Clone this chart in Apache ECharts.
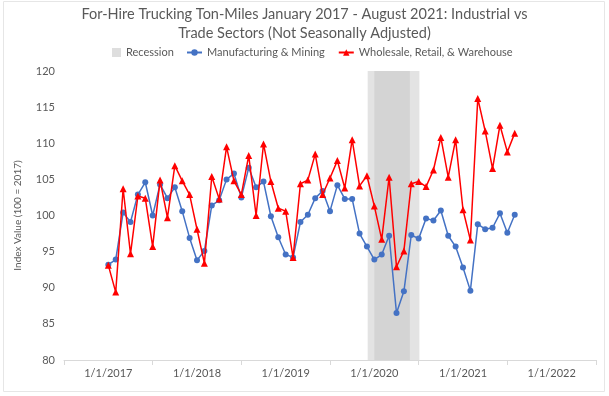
<!DOCTYPE html>
<html>
<head>
<meta charset="utf-8">
<title>For-Hire Trucking Ton-Miles</title>
<script src="https://cdn.jsdelivr.net/npm/echarts@6/dist/echarts.min.js"></script>
<style>
  html, body { margin: 0; padding: 0; background: #fff; }
  #chart { width: 609px; height: 396px; }
</style>
</head>
<body>
<div id="chart"></div>
<script>
// month index: 0 = Jan 2017 ... 55 = Aug 2021
const firstYear = 2017
const yearLabels = [2017, 2018, 2019, 2020, 2021, 2022]

const manufacturing = [
  93.2, 93.9, 100.4, 99.1, 102.9, 104.6, 100.0, 104.3, 102.4, 103.9, 100.6, 96.9,
  93.8, 95.1, 101.4, 102.1, 105.0, 105.8, 102.5, 106.6, 103.9, 104.7, 99.9, 97.0,
  94.6, 94.2, 99.1, 100.1, 102.4, 103.4, 100.6, 104.2, 102.3, 102.3, 97.5, 95.7,
  93.9, 94.6, 97.2, 86.5, 89.5, 97.3, 96.8, 99.6, 99.3, 100.7, 97.2, 95.7,
  92.8, 89.6, 98.8, 98.1, 98.3, 100.3, 97.6, 100.1
]
const wholesale = [
  93.1, 89.4, 103.7, 94.7, 102.7, 102.4, 95.7, 104.9, 99.7, 106.9, 104.8, 102.9,
  98.1, 93.4, 105.4, 102.3, 109.5, 104.8, 102.9, 108.3, 100.0, 109.9, 104.7, 101.0,
  100.6, 94.2, 104.4, 104.9, 108.5, 102.9, 105.2, 107.6, 103.8, 110.5, 104.1, 105.5,
  101.3, 96.7, 105.3, 92.9, 95.1, 104.4, 104.7, 104.0, 106.3, 110.8, 105.3, 110.5,
  100.8, 96.6, 116.2, 111.7, 106.5, 112.5, 108.8, 111.4
]
// recession column, in month-index units (outer pale edge and darker core)
const recessionOuter = [35.1, 42.1]
const recessionInner = [36.0, 40.8]

const grey = '#595959'
const font = 'Lato'

const chart = echarts.init(document.getElementById('chart'))

const labelValues = yearLabels.map(y => (y - firstYear) * 12)
const tickValues = [-6].concat(labelValues.map(v => v + 6))

chart.setOption({
  animation: false,
  backgroundColor: '#fff',
  title: {
    text: 'For-Hire Trucking Ton-Miles January 2017 - August 2021: Industrial vs\nTrade Sectors (Not Seasonally Adjusted)',
    left: 'center',
    top: 5,
    padding: 0,
    textStyle: {
      fontFamily: font,
      fontSize: 14.5,
      fontWeight: 'normal',
      color: grey,
      lineHeight: 19,
      align: 'center'
    }
  },
  legend: [
    {
      left: 112,
      top: 47,
      padding: 0,
      itemWidth: 9,
      itemHeight: 9,
      textStyle: { fontFamily: font, fontSize: 11, color: grey },
      data: [{ name: 'Recession', icon: 'rect', itemStyle: { color: '#dedede' } }]
    },
    {
      left: 186,
      top: 47,
      padding: 0,
      itemWidth: 15,
      itemHeight: 8,
      itemGap: 13,
      textStyle: { fontFamily: font, fontSize: 11, color: grey },
      data: ['Manufacturing & Mining', 'Wholesale, Retail, & Warehouse']
    }
  ],
  grid: { left: 64, right: 13, top: 71, bottom: 36 },
  xAxis: {
    type: 'value',
    min: -6,
    max: 66,
    axisLine: { lineStyle: { color: '#d9d9d9', width: 1 } },
    axisTick: { show: true, length: 5, customValues: tickValues, lineStyle: { color: '#d9d9d9' } },
    axisLabel: {
      customValues: labelValues,
      margin: 8,
      fontFamily: font,
      fontSize: 11,
      color: grey,
      formatter: v => '1/1/' + (firstYear + v / 12)
    },
    splitLine: { show: false }
  },
  yAxis: {
    type: 'value',
    min: 80,
    max: 120,
    interval: 5,
    name: 'Index Value (100 = 2017)',
    nameLocation: 'middle',
    nameGap: 41,
    nameTextStyle: { fontFamily: font, fontSize: 10, color: grey },
    axisLine: { show: false },
    axisTick: { show: false },
    axisLabel: { margin: 9, fontFamily: font, fontSize: 11, color: grey },
    splitLine: { show: false }
  },
  series: [
    {
      name: 'Recession',
      type: 'line',
      data: [],
      itemStyle: { color: '#dedede' },
      markArea: {
        silent: true,
        data: [
          [{ xAxis: recessionOuter[0], itemStyle: { color: '#e3e3e3', opacity: 1 } }, { xAxis: recessionOuter[1] }],
          [{ xAxis: recessionInner[0], itemStyle: { color: '#d4d4d4', opacity: 1 } }, { xAxis: recessionInner[1] }]
        ]
      },
      z: 1
    },
    {
      name: 'Manufacturing & Mining',
      type: 'line',
      data: manufacturing.map((v, i) => [i, v]),
      color: '#4472c4',
      symbol: 'circle',
      symbolSize: 6,
      lineStyle: { width: 1.5 },
      z: 3
    },
    {
      name: 'Wholesale, Retail, & Warehouse',
      type: 'line',
      data: wholesale.map((v, i) => [i, v]),
      color: '#ff0000',
      symbol: 'triangle',
      symbolSize: 7,
      lineStyle: { width: 1.5 },
      z: 4
    }
  ],
  graphic: [
    {
      type: 'rect',
      silent: true,
      shape: { x: 3.5, y: 1.5, width: 601, height: 390 },
      style: { fill: null, stroke: '#e6e6e6', lineWidth: 1 }
    }
  ]
})
</script>
</body>
</html>
